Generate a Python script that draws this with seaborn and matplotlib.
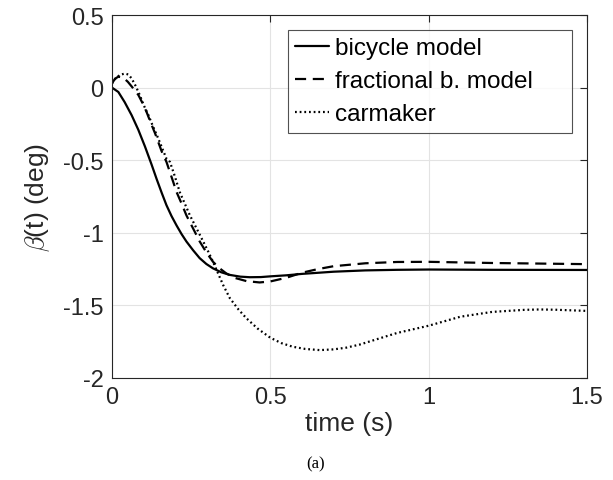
import numpy as np
import pandas as pd
import seaborn as sns
import matplotlib.pyplot as plt

# values
t_bicycle = [0.0, 0.02, 0.04, 0.062, 0.083, 0.104, 0.125, 0.141, 0.157, 0.172, 0.188, 0.204, 0.22, 0.235,
             0.256, 0.277, 0.298, 0.319, 0.345, 0.372, 0.405, 0.435, 0.47, 0.5, 0.55, 0.6, 0.7, 0.8,
             0.9, 1.0, 1.2, 1.5]
beta_bicycle = [0.0, -0.03, -0.1, -0.19, -0.29, -0.405, -0.53, -0.63, -0.725, -0.81, -0.885, -0.95, -1.01,
                -1.06, -1.12, -1.175, -1.215, -1.245, -1.272, -1.29, -1.302, -1.306, -1.305, -1.3,
                -1.293, -1.283, -1.268, -1.259, -1.255, -1.253, -1.255, -1.256]

t_fractional = [0.0, 0.01, 0.02, 0.035, 0.05, 0.067, 0.083, 0.096, 0.109, 0.122, 0.136, 0.157, 0.172,
                0.188, 0.204, 0.22, 0.235, 0.256, 0.277, 0.298, 0.319, 0.34, 0.361, 0.39, 0.425, 0.466,
                0.5, 0.55, 0.6, 0.65, 0.7, 0.8, 0.9, 1.0, 1.2, 1.5]
beta_fractional = [0.03, 0.062, 0.075, 0.07, 0.04, -0.005, -0.05, -0.105, -0.167, -0.24, -0.315, -0.44,
                   -0.512, -0.615, -0.72, -0.8, -0.88, -0.97, -1.06, -1.135, -1.2, -1.245, -1.28,
                   -1.312, -1.333, -1.342, -1.335, -1.31, -1.275, -1.25, -1.23, -1.21, -1.201, -1.2,
                   -1.208, -1.216]

t_carmaker = [0.0, 0.01, 0.025, 0.041, 0.052, 0.062, 0.075, 0.088, 0.1, 0.115, 0.13, 0.146, 0.159, 0.172,
              0.183, 0.199, 0.214, 0.23, 0.246, 0.267, 0.288, 0.304, 0.319, 0.335, 0.351, 0.372,
              0.4, 0.425, 0.46, 0.5, 0.535, 0.571, 0.61, 0.656, 0.7, 0.74, 0.782, 0.845, 0.9, 1.0,
              1.1, 1.2, 1.3, 1.35, 1.4, 1.5]
beta_carmaker = [0.028, 0.06, 0.088, 0.097, 0.09, 0.063, 0.01, -0.053, -0.12, -0.19, -0.27, -0.35, -0.42,
                 -0.49, -0.512, -0.615, -0.72, -0.8, -0.88, -0.97, -1.06, -1.13, -1.2, -1.28, -1.36,
                 -1.45, -1.53, -1.59, -1.66, -1.723, -1.76, -1.785, -1.8, -1.808, -1.803, -1.791,
                 -1.77, -1.727, -1.69, -1.64, -1.578, -1.545, -1.531, -1.528, -1.53, -1.538]

labels = ["bicycle model", "fractional b. model", "carmaker"]

sns.set_style("white")
plt.rcParams['font.family'] = ['Liberation Sans', 'DejaVu Sans']
plt.rcParams['mathtext.fontset'] = 'cm'
plt.rcParams['axes.unicode_minus'] = False

fig = plt.figure(figsize=(6.13, 4.81), dpi=100)
ax = fig.add_axes([0.1827, 0.2121, 0.775, 0.7546])

sns.lineplot(x=t_bicycle, y=beta_bicycle, ax=ax, color='black', lw=1.6,
             label=labels[0])
sns.lineplot(x=t_fractional, y=beta_fractional, ax=ax, color='black', lw=1.6,
             linestyle=(0, (5, 3)), label=labels[1])
sns.lineplot(x=t_carmaker, y=beta_carmaker, ax=ax, color='black', lw=1.6,
             linestyle=(0, (0.8, 1.3)), label=labels[2])

ax.set_xlim(0, 1.5)
ax.set_ylim(-2, 0.5)
ax.set_xticks([0, 0.5, 1, 1.5])
ax.set_xticklabels(['0', '0.5', '1', '1.5'])
ax.set_yticks([-2, -1.5, -1, -0.5, 0, 0.5])
ax.set_yticklabels(['-2', '-1.5', '-1', '-0.5', '0', '0.5'])
ax.grid(True, color='#e3e3e3', lw=0.8)
ax.tick_params(direction='in', length=5, width=0.8, labelsize=17, colors='#262626',
               top=True, right=True, pad=6)
for s in ax.spines.values():
    s.set_color('#262626')
    s.set_linewidth(0.8)

ax.set_xlabel('time (s)', fontsize=19, color='#262626', labelpad=2)
ax.set_ylabel(r'$\beta$(t) (deg)', fontsize=19, color='#262626', labelpad=8)

leg = ax.legend(loc='upper left', bbox_to_anchor=(0.3705, 0.6887, 0.598, 0.27),
                mode='expand', fontsize=17.5, labelcolor='black',
                frameon=True, fancybox=False, edgecolor='#262626',
                handlelength=1.4, handletextpad=0.25, borderpad=0.3,
                labelspacing=0.45, borderaxespad=0)
leg.get_frame().set_linewidth(0.8)

fig.text(0.5155, 0.035, '(a)', ha='center', va='center', fontsize=12,
         family='Liberation Serif', color='black')

fig.savefig('out.png', dpi=100)
